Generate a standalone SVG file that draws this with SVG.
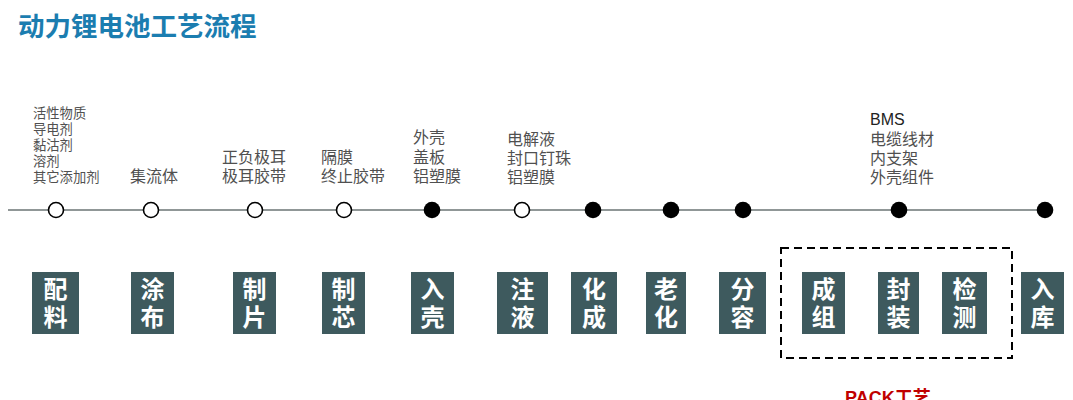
<svg xmlns="http://www.w3.org/2000/svg" width="1073" height="400" viewBox="0 0 1073 400">
<style>
.title{font-family:"Liberation Sans","Noto Sans CJK SC",sans-serif;font-weight:bold;font-size:26.5px;fill:#1b7db0}
.lbl{font-family:"Liberation Sans","Noto Sans CJK SC",sans-serif;font-size:16px;fill:#505050}
.lbs{font-family:"Liberation Sans","Noto Sans CJK SC",sans-serif;font-size:13.3px;fill:#505050}
.box{fill:#3e5a5e}
.bt{font-family:"Noto Sans CJK SC",sans-serif;font-weight:bold;font-size:24px;fill:#ffffff;writing-mode:vertical-rl;letter-spacing:4px}
.open{fill:#ffffff;stroke:#000;stroke-width:1.6}
.full{fill:#000}
.pack{font-family:"Liberation Sans","Noto Sans CJK SC",sans-serif;font-weight:bold;font-size:18px;fill:#c00000}
</style>
<rect width="1073" height="400" fill="#ffffff"/>
<text class="title" x="18" y="36">动力锂电池工艺流程</text>

<g id="connectors">
<line x1="8" y1="210" x2="1045" y2="210" stroke="#6b7575" stroke-width="1.6"/>
<rect x="781" y="248" width="231" height="110" fill="none" stroke="#000" stroke-width="2" stroke-dasharray="8 5"/>
</g>

<g id="materials">
<text class="lbs" x="33"><tspan x="33" y="118">活性物质</tspan><tspan x="33" y="134">导电剂</tspan><tspan x="33" y="149.5">黏沽剂</tspan><tspan x="33" y="165.5">溶剂</tspan><tspan x="33" y="181.5">其它添加剂</tspan></text>
<text class="lbl"><tspan x="130" y="182">集流体</tspan></text>
<text class="lbl"><tspan x="222" y="163">正负极耳</tspan><tspan x="222" y="182">极耳胶带</tspan></text>
<text class="lbl"><tspan x="321" y="163">隔膜</tspan><tspan x="321" y="182">终止胶带</tspan></text>
<text class="lbl"><tspan x="413" y="143">外壳</tspan><tspan x="413" y="163">盖板</tspan><tspan x="413" y="182">铝塑膜</tspan></text>
<text class="lbl"><tspan x="507" y="145">电解液</tspan><tspan x="507" y="164">封口钉珠</tspan><tspan x="507" y="183">铝塑膜</tspan></text>
<text class="lbl"><tspan x="870" y="125" fill="#222">BMS</tspan><tspan x="870" y="145">电缆线材</tspan><tspan x="870" y="164">内支架</tspan><tspan x="870" y="183">外壳组件</tspan></text>
</g>

<g id="points">
<circle class="open" cx="56" cy="210" r="7.5"/>
<circle class="open" cx="151" cy="210" r="7.5"/>
<circle class="open" cx="255" cy="210" r="7.5"/>
<circle class="open" cx="344" cy="210" r="7.5"/>
<circle class="full" cx="432" cy="210" r="8.3"/>
<circle class="open" cx="522" cy="210" r="7.5"/>
<circle class="full" cx="593" cy="210" r="8.3"/>
<circle class="full" cx="671" cy="210" r="8.3"/>
<circle class="full" cx="743" cy="210" r="8.3"/>
<circle class="full" cx="899" cy="210" r="8.3"/>
<circle class="full" cx="1045" cy="210" r="8.3"/>
</g>

<g id="step-peiliao"><rect class="box" x="32" y="272" width="47" height="62"/><text class="bt" x="55.5" y="277">配料</text></g>
<g id="step-tubu"><rect class="box" x="131" y="272" width="43" height="62"/><text class="bt" x="152.5" y="277">涂布</text></g>
<g id="step-zhipian"><rect class="box" x="233" y="272" width="43" height="62"/><text class="bt" x="254.5" y="277">制片</text></g>
<g id="step-zhixin"><rect class="box" x="322" y="272" width="43" height="62"/><text class="bt" x="343.5" y="277">制芯</text></g>
<g id="step-ruke"><rect class="box" x="411" y="272" width="43" height="62"/><text class="bt" x="432.5" y="277">入壳</text></g>
<g id="step-zhuye"><rect class="box" x="497" y="272" width="51" height="62"/><text class="bt" x="522.5" y="277">注液</text></g>
<g id="step-huacheng"><rect class="box" x="571" y="272" width="46" height="62"/><text class="bt" x="594" y="277">化成</text></g>
<g id="step-laohua"><rect class="box" x="646" y="272" width="40" height="62"/><text class="bt" x="666" y="277">老化</text></g>
<g id="step-fenrong"><rect class="box" x="719" y="272" width="47" height="62"/><text class="bt" x="742.5" y="277">分容</text></g>
<g id="step-chengzu"><rect class="box" x="802" y="272" width="43" height="62"/><text class="bt" x="823.5" y="277">成组</text></g>
<g id="step-fengzhuang"><rect class="box" x="878" y="272" width="41" height="62"/><text class="bt" x="898.5" y="277">封装</text></g>
<g id="step-jiance"><rect class="box" x="942" y="272" width="45" height="62"/><text class="bt" x="964.5" y="277">检测</text></g>
<g id="step-ruku"><rect class="box" x="1021" y="272" width="43" height="62"/><text class="bt" x="1042.5" y="277">入库</text></g>

<g id="pack-label"><text class="pack" x="845" y="404">PACK工艺</text></g>
</svg>
